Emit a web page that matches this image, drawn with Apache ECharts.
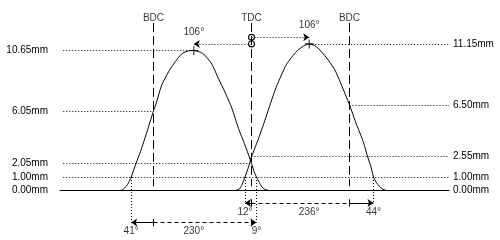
<!DOCTYPE html>
<html>
<head>
<meta charset="UTF-8">
<title>cam timing</title>
<script src="https://cdn.jsdelivr.net/npm/echarts@6.0.0/dist/echarts.min.js"></script>
<style>
	html,body{margin:0;padding:0;background:#fff;}
	#chart{width:500px;height:240px;}
</style>
</head>
<body>
<div id="chart"></div>
<script type="text/javascript">
	// crank angle in degrees, TDC = 0
	var deadCentres = [-180, 0, 180];
	var deadCentreNames = ['BDC', 'TDC', 'BDC'];

	// lift curves (deg, mm)
	var exhaustDeg  = [-240,-236,-230,-226,-221,-212,-204,-192,-180,-176,-165,-152,-140,-128,-116,-106,-96,-88,-73,-61,-49,-36,-24,-12,0,4,9,14,19,24,30];
	var exhaustLift = [0,0.05,0.3,0.55,1.00,2.05,2.93,4.45,6.05,6.5,8.0,9.05,9.8,10.4,10.62,10.65,10.55,10.38,9.62,8.53,7.5,6.24,4.71,3.44,2.05,1.5,1.0,0.6,0.25,0.07,0];
	var intakeDeg  = [-28,-22,-17,-12,-6,0,9,22,34,46,64,83,96,106,116,122,138,153,165,180,193,205,213,220,224,229,235,240,246];
	var intakeLift = [0,0.1,0.45,1.00,1.7,2.55,3.5,5.0,6.5,7.92,9.57,10.59,11.0,11.15,11.02,10.84,10.08,9.18,8.04,6.50,4.99,3.72,2.58,1.69,1.00,0.6,0.29,0.1,0];

	var exhaustAngles = [41, 230, 9];   // opens BBDC, duration, closes ATDC
	var intakeAngles  = [12, 236, 44];  // opens BTDC, duration, closes ABDC
	var peakAngles = [106, 106];        // exhaust BTDC, intake ATDC
	var checkLift = 1.00;
	var exhaustMarks = [10.65, 6.05, 2.05]; // peak, at BDC, at TDC
	var intakeMarks  = [11.15, 6.50, 2.55]; // peak, at BDC, at TDC

	var xMin = -351.75, xMax = 362.75, yMin = -3.5, yMax = 14.5;
	var font = 'Liberation Sans';

	var exOpen = -180 - exhaustAngles[0], exClose = exhaustAngles[2];
	var inOpen = -intakeAngles[0], inClose = 180 + intakeAngles[2];
	var exPeak = -peakAngles[0], inPeak = peakAngles[1];
	var row1 = -0.98, row2 = -2.47;   // timing arrows under the baseline

	function zip(a, b){
		var r = [];
		for(var i = 0; i < a.length; i++){ r.push([a[i], b[i]]); }
		return r;
	}
	function seg(x1, y1, x2, y2, type, s1, s2, size){
		return [
			{coord:[x1, y1], symbol:s1 || 'none', symbolSize:size || 6, lineStyle:{type:type, width:1, color:'#000'}},
			{coord:[x2, y2], symbol:s2 || 'none', symbolSize:size || 6}
		];
	}
	var dot = [1, 2], dash = [4, 3];
	var ring = 'path://M10,5A5,5,0,1,1,0,5A5,5,0,1,1,10,5ZM8.5,5A3.5,3.5,0,1,0,1.5,5A3.5,3.5,0,1,0,8.5,5Z';

	var lines = [];
	// dead centre lines
	for(var i = 0; i < deadCentres.length; i++){
		lines.push(seg(deadCentres[i], 12.75, deadCentres[i], 0.3, [9, 4]));
	}
	// level lines, left
	var exStops = [exPeak, -180, 0];
	for(var i = 0; i < exhaustMarks.length; i++){
		lines.push(seg(xMin + 6, exhaustMarks[i], exStops[i], exhaustMarks[i], dot));
	}
	lines.push(seg(xMin + 6, checkLift, xMax, checkLift, dot));
	// level lines, right
	var inStops = [inPeak, 180, 0];
	for(var i = 0; i < intakeMarks.length; i++){
		lines.push(seg(inStops[i], intakeMarks[i], xMax, intakeMarks[i], dot));
	}
	// peak angle arrows from TDC
	var a1 = seg(0, exhaustMarks[0] + 0.5, exPeak, exhaustMarks[0] + 0.5, dot, ring, 'arrow', 6);
	a1[0].symbolSize = 7;
	var a2 = seg(0, intakeMarks[0] + 0.5, inPeak, intakeMarks[0] + 0.5, dot, ring, 'arrow', 6);
	a2[0].symbolSize = 7;
	lines.push(a1, a2);
	// timing drop lines
	lines.push(seg(exOpen, checkLift, exOpen, row2, dot));
	lines.push(seg(exClose, checkLift, exClose, row2, dot));
	lines.push(seg(inOpen, checkLift, inOpen, row1, dot));
	lines.push(seg(inClose, checkLift, inClose, row1, dot));
	// intake duration row
	lines.push(seg(inOpen, row1, 0, row1, 'solid', 'arrow', 'none', 6));
	lines.push(seg(0, row1, 180, row1, dash));
	lines.push(seg(180, row1, inClose, row1, 'solid', 'none', 'arrow', 6));
	// exhaust duration row
	lines.push(seg(exOpen, row2, -180, row2, 'solid', 'arrow', 'none', 6));
	lines.push(seg(-180, row2, 0, row2, dash));
	lines.push(seg(0, row2, exClose, row2, 'solid', 'none', 'arrow', 6));
	// ticks on the rows
	[[0, row1], [180, row1], [-180, row2], [0, row2]].forEach(function(p){
		lines.push(seg(p[0], p[1] + 0.28, p[0], p[1] - 0.28, 'solid'));
	});

	// texts
	var texts = [];
	for(var i = 0; i < deadCentres.length; i++){
		texts.push({value:[deadCentres[i], 13.1], name:deadCentreNames[i]});
	}
	texts.push({value:[exPeak, exhaustMarks[0] + 1.42], name:peakAngles[0] + '°'});
	texts.push({value:[inPeak, intakeMarks[0] + 1.42], name:peakAngles[1] + '°'});
	texts.push({value:[inOpen, -1.71], name:intakeAngles[0] + '°'});
	texts.push({value:[(inOpen + inClose) / 2, -1.71], name:intakeAngles[1] + '°'});
	texts.push({value:[inClose, -1.71], name:intakeAngles[2] + '°'});
	texts.push({value:[exOpen, -3.16], name:exhaustAngles[0] + '°'});
	texts.push({value:[(exOpen + exClose) / 2, -3.16], name:exhaustAngles[1] + '°'});
	texts.push({value:[exClose, -3.16], name:exhaustAngles[2] + '°'});

	var leftLevels = [0, checkLift].concat(exhaustMarks);
	var rightLevels = [0, checkLift].concat(intakeMarks);

	function yAxisFor(levels, margin){
		return {
			type:'value', min:yMin, max:yMax,
			axisLine:{show:false}, axisTick:{show:false}, splitLine:{show:false},
			axisLabel:{
				customValues:levels, margin:margin,
				color:'#000', fontSize:10, fontFamily:font,
				formatter:function(v){ return v.toFixed(2) + 'mm'; }
			}
		};
	}

	var myChart = echarts.init(document.getElementById('chart'));
	var option = {
		animation:false,
		backgroundColor:'#fff',
		grid:{left:60, right:51, top:0, bottom:4},
		xAxis:{
			type:'value', min:xMin, max:xMax,
			axisLine:{show:true, onZero:true, lineStyle:{color:'#000', width:1}},
			axisTick:{show:false}, axisLabel:{show:false}, splitLine:{show:false}
		},
		yAxis:[yAxisFor(leftLevels, 12), yAxisFor(rightLevels, 4)],
		series:[
			{
				name:'exhaust', type:'line', data:zip(exhaustDeg, exhaustLift),
				showSymbol:false, smooth:0.2, lineStyle:{color:'#000', width:1},
				markLine:{silent:true, symbol:'none', label:{show:false}, data:lines}
			},
			{
				name:'intake', type:'line', data:zip(intakeDeg, intakeLift),
				showSymbol:false, smooth:0.2, lineStyle:{color:'#000', width:1}
			},
			{
				name:'peaks', type:'scatter',
				data:[[exPeak, exhaustMarks[0]], [inPeak, intakeMarks[0]]],
				symbol:'path://M0,3.5H8V4.5H0Z M3.5,0H4.5V8H3.5Z', symbolSize:9,
				itemStyle:{color:'#000'}
			},
			{
				name:'texts', type:'scatter', data:texts, symbolSize:1,
				itemStyle:{color:'transparent'},
				label:{
					show:true, position:'inside', color:'#000', fontSize:10, fontFamily:font,
					formatter:function(p){ return p.name; }
				}
			}
		]
	};
	myChart.setOption(option);
</script>
</body>
</html>
